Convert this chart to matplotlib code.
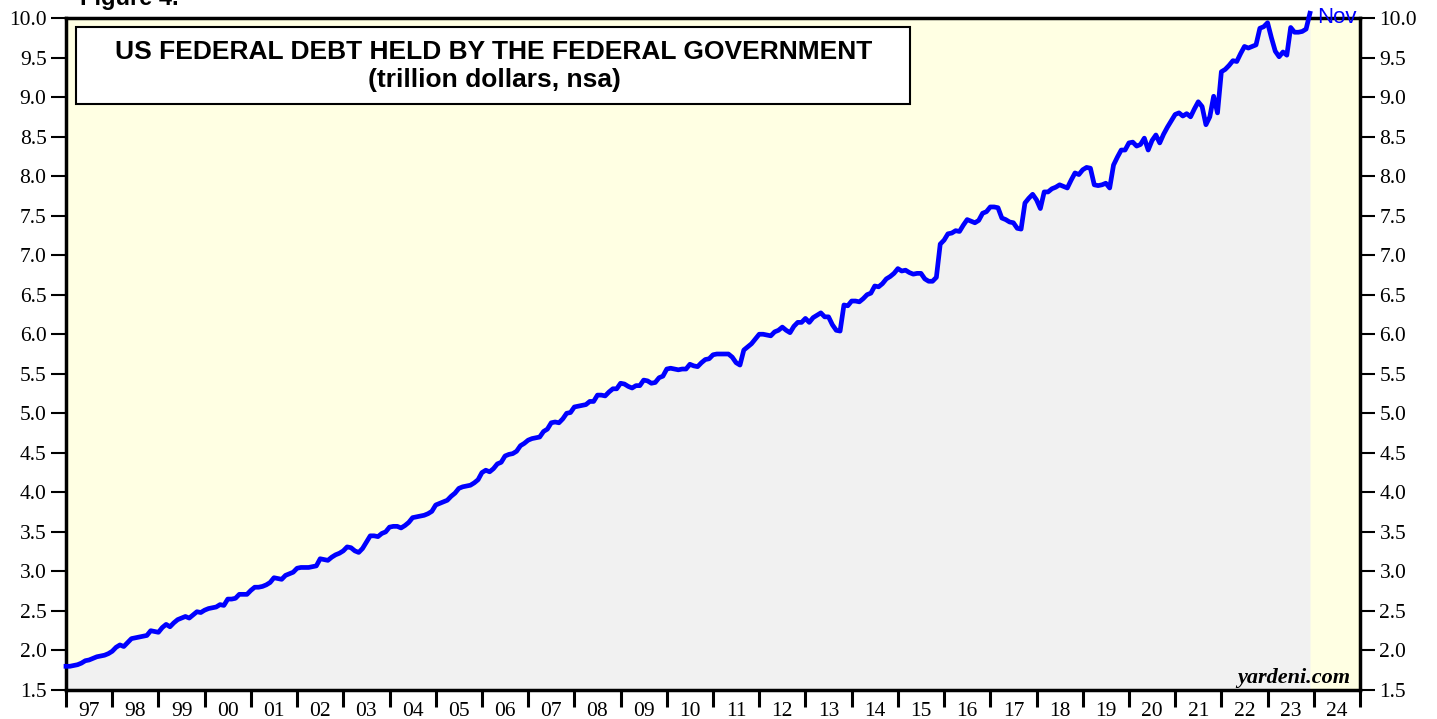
import numpy as np
import matplotlib
matplotlib.use('Agg')
import matplotlib.pyplot as plt
from matplotlib.patches import Rectangle

# US federal debt held by the federal government, trillion dollars, monthly (end of month)
start_value = 1.80  # Dec 1996
debt_1997 = [1.80, 1.81, 1.82, 1.84, 1.87, 1.88, 1.90, 1.92, 1.93, 1.94, 1.96, 1.99]
debt_1998 = [2.04, 2.07, 2.05, 2.10, 2.15, 2.16, 2.17, 2.18, 2.19, 2.25, 2.24, 2.23]
debt_1999 = [2.29, 2.33, 2.30, 2.35, 2.39, 2.41, 2.43, 2.41, 2.45, 2.49, 2.48, 2.51]
debt_2000 = [2.53, 2.54, 2.55, 2.58, 2.57, 2.65, 2.65, 2.66, 2.71, 2.71, 2.71, 2.76]
debt_2001 = [2.80, 2.80, 2.81, 2.83, 2.86, 2.92, 2.91, 2.90, 2.95, 2.97, 2.99, 3.04]
debt_2002 = [3.05, 3.05, 3.05, 3.06, 3.07, 3.16, 3.15, 3.14, 3.18, 3.21, 3.23, 3.26]
debt_2003 = [3.31, 3.30, 3.26, 3.24, 3.29, 3.37, 3.45, 3.45, 3.44, 3.48, 3.50, 3.56]
debt_2004 = [3.57, 3.57, 3.55, 3.58, 3.62, 3.68, 3.69, 3.70, 3.71, 3.73, 3.76, 3.84]
debt_2005 = [3.86, 3.88, 3.90, 3.95, 3.99, 4.05, 4.07, 4.08, 4.09, 4.12, 4.16, 4.25]
debt_2006 = [4.28, 4.26, 4.30, 4.36, 4.38, 4.46, 4.48, 4.49, 4.52, 4.59, 4.62, 4.66]
debt_2007 = [4.68, 4.69, 4.70, 4.77, 4.80, 4.88, 4.89, 4.88, 4.93, 5.00, 5.01, 5.08]
debt_2008 = [5.09, 5.10, 5.11, 5.15, 5.15, 5.23, 5.23, 5.22, 5.27, 5.31, 5.31, 5.38]
debt_2009 = [5.37, 5.34, 5.32, 5.35, 5.35, 5.42, 5.41, 5.38, 5.39, 5.45, 5.47, 5.56]
debt_2010 = [5.57, 5.56, 5.55, 5.56, 5.56, 5.62, 5.60, 5.59, 5.64, 5.68, 5.69, 5.74]
debt_2011 = [5.75, 5.75, 5.75, 5.75, 5.71, 5.64, 5.61, 5.80, 5.84, 5.88, 5.94, 6.00]
debt_2012 = [6.00, 5.99, 5.98, 6.03, 6.05, 6.09, 6.05, 6.02, 6.10, 6.15, 6.15, 6.20]
debt_2013 = [6.15, 6.21, 6.24, 6.27, 6.22, 6.22, 6.12, 6.05, 6.04, 6.37, 6.36, 6.42]
debt_2014 = [6.42, 6.41, 6.45, 6.50, 6.52, 6.61, 6.60, 6.64, 6.70, 6.73, 6.77, 6.83]
debt_2015 = [6.80, 6.81, 6.78, 6.76, 6.77, 6.77, 6.70, 6.67, 6.67, 6.72, 7.14, 7.19]
debt_2016 = [7.27, 7.28, 7.31, 7.30, 7.38, 7.45, 7.43, 7.41, 7.44, 7.53, 7.55, 7.61]
debt_2017 = [7.61, 7.60, 7.47, 7.45, 7.42, 7.41, 7.34, 7.33, 7.66, 7.72, 7.77, 7.70]
debt_2018 = [7.59, 7.80, 7.80, 7.84, 7.86, 7.89, 7.87, 7.85, 7.95, 8.04, 8.02, 8.08]
debt_2019 = [8.11, 8.10, 7.89, 7.88, 7.89, 7.91, 7.85, 8.14, 8.24, 8.33, 8.33, 8.42]
debt_2020 = [8.43, 8.38, 8.40, 8.48, 8.33, 8.45, 8.52, 8.42, 8.53, 8.62, 8.70, 8.78]
debt_2021 = [8.80, 8.76, 8.79, 8.75, 8.85, 8.94, 8.88, 8.65, 8.75, 9.01, 8.80, 9.32]
debt_2022 = [9.35, 9.40, 9.46, 9.45, 9.55, 9.64, 9.62, 9.64, 9.66, 9.87, 9.89, 9.94]
debt_2023 = [9.75, 9.58, 9.51, 9.57, 9.53, 9.88, 9.82, 9.82, 9.83, 9.86, 10.06]  # through Nov

year_labels = ['97', '98', '99', '00', '01', '02', '03', '04', '05', '06', '07', '08', '09', '10',
               '11', '12', '13', '14', '15', '16', '17', '18', '19', '20', '21', '22', '23', '24']

values = ([start_value] + debt_1997 + debt_1998 + debt_1999 + debt_2000 + debt_2001 + debt_2002
          + debt_2003 + debt_2004 + debt_2005 + debt_2006 + debt_2007 + debt_2008 + debt_2009
          + debt_2010 + debt_2011 + debt_2012 + debt_2013 + debt_2014 + debt_2015 + debt_2016
          + debt_2017 + debt_2018 + debt_2019 + debt_2020 + debt_2021 + debt_2022 + debt_2023)
t = 1997 + np.arange(len(values)) / 12

serif = 'Liberation Serif'
sans = 'Liberation Sans'

fig = plt.figure(figsize=(14.37, 7.19), dpi=100)
ax = fig.add_axes([66 / 1437, 1 - 690 / 719, 1294 / 1437, 672 / 719])
ax.set_facecolor('#ffffe3')

ax.fill_between(t, 1.5, values, color='#f1f1f1', lw=0, zorder=1)
ax.plot(t, values, color='#0000ff', lw=3.4, clip_on=False, zorder=5, solid_joinstyle='round')

ax.set_xlim(1997, 2025)
ax.set_ylim(1.5, 10.0)

# y axis on both sides
yticks = np.arange(1.5, 10.01, 0.5)
ax.set_yticks(yticks)
ax.set_yticklabels([f'{v:.1f}' for v in yticks], family=serif)
ax.tick_params(axis='y', direction='out', length=11, width=1.5, labelsize=15.5, pad=3,
               left=True, right=True, labelleft=True, labelright=True)

# x axis: year ticks, labels in the middle of each year
ax.set_xticks(range(1997, 2026))
ax.set_xticklabels([])
ax.set_xticks(np.arange(1997.5, 2025, 1.0), minor=True)
ax.set_xticklabels(year_labels, minor=True, family=serif)
ax.tick_params(axis='x', which='major', direction='out', length=12, width=2.2)
ax.tick_params(axis='x', which='minor', length=0, pad=9, labelsize=15.5)

for s in ax.spines.values():
    s.set_linewidth(2.5)
    s.set_zorder(4)

# title box
ax.add_patch(Rectangle((10 / 1294, (690 - 104) / 672), 834 / 1294, 77 / 672, transform=ax.transAxes,
                       facecolor='white', edgecolor='black', lw=1.5, zorder=6))
ax.text(0.3308, (690 - 52) / 672, 'US FEDERAL DEBT HELD BY THE FEDERAL GOVERNMENT',
        transform=ax.transAxes, ha='center', va='center', fontsize=19, fontweight='bold',
        family=sans, zorder=7)
ax.text(0.3308, (690 - 80) / 672, '(trillion dollars, nsa)', transform=ax.transAxes,
        ha='center', va='center', fontsize=19, fontweight='bold', family=sans, zorder=7)

ax.annotate('Nov', xy=(t[-1], values[-1]), xytext=(5, -3), textcoords='offset points',
            color='#0000ff', fontsize=16, family=sans, va='center', ha='left', zorder=7,
            annotation_clip=False)

ax.text((1350 - 66) / 1294, 7 / 672, 'yardeni.com', transform=ax.transAxes, ha='right',
        va='baseline', fontsize=16, fontweight='bold', style='italic', family=serif, zorder=7)

fig.text(80 / 1437, 1 - 5 / 719, 'Figure 4.', ha='left', va='baseline', fontsize=17,
         fontweight='bold', family=sans)

fig.savefig('out.png', dpi=100)
